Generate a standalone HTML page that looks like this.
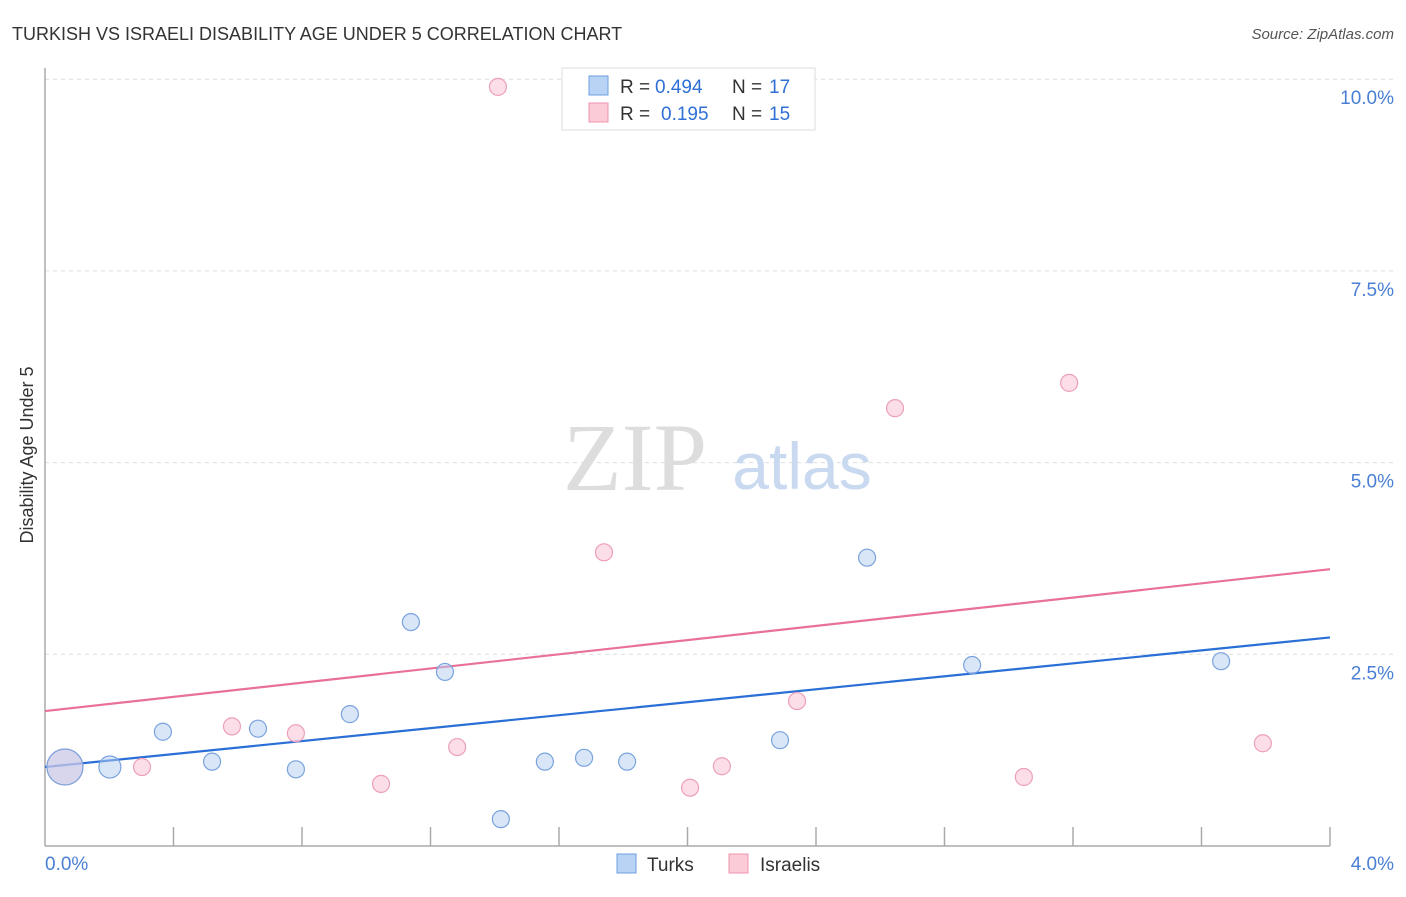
<!DOCTYPE html>
<html><head><meta charset="utf-8"><style>
body{margin:0;background:#fff;font-family:"Liberation Sans",sans-serif;}
</style></head><body>
<svg width="1406" height="892" font-family="Liberation Sans, sans-serif" xmlns="http://www.w3.org/2000/svg">
<text x="12" y="40" font-size="18" fill="#333">TURKISH VS ISRAELI DISABILITY AGE UNDER 5 CORRELATION CHART</text>
<text x="1394" y="39" font-size="15" fill="#555" font-style="italic" text-anchor="end">Source: ZipAtlas.com</text>
<g id="grid"></g>
<text x="635" y="490" font-size="96" fill="#ddd" text-anchor="middle" style="font-family:'Liberation Serif',serif">ZIP</text>
<text x="802" y="489" font-size="66" fill="#c9d9ef" text-anchor="middle">atlas</text>
<g id="axes"></g>
<g id="lines"></g>
<g id="pts"></g>
<text x="33" y="455" font-size="18" fill="#333" text-anchor="middle" transform="rotate(-90 33 455)">Disability Age Under 5</text>
<text x="45" y="870" font-size="19" fill="#4a7fd4">0.0%</text>
<text x="1394" y="870" font-size="19" fill="#4a7fd4" text-anchor="end">4.0%</text>
<g>
<rect x="562" y="68" width="253" height="62" fill="#fff" stroke="#ddd"/>
<rect x="589" y="76" width="19" height="19" fill="#b9d3f5" stroke="#6d9de0"/>
<rect x="589" y="103" width="19" height="19" fill="#fbcbd8" stroke="#ec94ad"/>
<text x="620" y="93" font-size="19" fill="#333">R =</text>
<text x="655" y="93" font-size="19" fill="#2f6fd6">0.494</text>
<text x="732" y="93" font-size="19" fill="#333">N =</text>
<text x="769" y="93" font-size="19" fill="#2f6fd6">17</text>
<text x="620" y="120" font-size="19" fill="#333">R =</text>
<text x="661" y="120" font-size="19" fill="#2f6fd6">0.195</text>
<text x="732" y="120" font-size="19" fill="#333">N =</text>
<text x="769" y="120" font-size="19" fill="#2f6fd6">15</text>
</g>
<g>
<rect x="617" y="854" width="19" height="19" fill="#b9d3f5" stroke="#6d9de0"/>
<text x="647" y="871" font-size="19" fill="#333">Turks</text>
<rect x="729" y="854" width="19" height="19" fill="#fbcbd8" stroke="#ec94ad"/>
<text x="760" y="871" font-size="19" fill="#333">Israelis</text>
</g>
</svg>
<script>
const yTicks=[2.5,5.0,7.5,10.0];
const yTickLabels=["2.5%","5.0%","7.5%","10.0%"];
const xTicks=[0.4,0.8,1.2,1.6,2.0,2.4,2.8,3.2,3.6,4.0];
const turksX=[0.062,0.202,0.367,0.52,0.663,0.781,0.949,1.139,1.245,1.419,1.556,1.678,1.812,2.288,2.559,2.886,3.661];
const turksY=[1.03,1.03,1.49,1.10,1.53,1.00,1.72,2.92,2.27,0.35,1.10,1.15,1.10,1.38,3.76,2.36,2.41];
const turksR=[18,11,8.5,8.5,8.5,8.5,8.5,8.5,8.5,8.5,8.5,8.5,8.5,8.5,8.5,8.5,8.5];
const israX=[0.062,0.302,0.582,0.781,1.046,1.283,1.41,1.74,2.008,2.107,2.341,2.646,3.047,3.188,3.791];
const israY=[1.03,1.03,1.56,1.47,0.81,1.29,9.90,3.83,0.76,1.04,1.89,5.71,0.90,6.04,1.34];
const israR=[18,8.5,8.5,8.5,8.5,8.5,8.5,8.5,8.5,8.5,8.5,8.5,8.5,8.5,8.5];
const turksTrend=[1.03,2.72];
const israTrend=[1.76,3.61];
const NS="http://www.w3.org/2000/svg";
const X=v=>45+v*321.25, Y=v=>846-v*76.68;
function mk(p,t,a){const e=document.createElementNS(NS,t);for(const k in a)e.setAttribute(k,a[k]);document.getElementById(p).appendChild(e);return e;}
yTicks.forEach((t,i)=>{
 const l=mk('grid','line',{x1:45,x2:1394,y1:Y(t),y2:Y(t),stroke:'#ddd','stroke-dasharray':'4,4'});
 
 
 const tx=mk('grid','text',{x:1394,y:Y(t)+25,'font-size':19,fill:'#4a7fd4','text-anchor':'end'});
 tx.textContent=yTickLabels[i];
 
 
});
let a=mk('axes','line',{x1:45,x2:45,y1:68,y2:846,stroke:'#aaa','stroke-width':1.5});


a=mk('axes','line',{x1:45,x2:1330,y1:846,y2:846,stroke:'#aaa','stroke-width':1.5});


xTicks.forEach(t=>{
 const l=mk('axes','line',{x1:X(t),x2:X(t),y1:827,y2:846,stroke:'#aaa','stroke-width':1.5});
 
 
});
let tl=mk('lines','line',{x1:X(0),x2:X(4),y1:Y(israTrend[0]),y2:Y(israTrend[1]),stroke:'#e8709a','stroke-width':2.2});


tl=mk('lines','line',{x1:X(0),x2:X(4),y1:Y(turksTrend[0]),y2:Y(turksTrend[1]),stroke:'#2a6fd6','stroke-width':2.2});


israX.forEach((x,i)=>{
 const c=mk('pts','circle',{cx:X(x),cy:Y(israY[i]),r:israR[i],fill:'rgba(248,190,208,0.5)',stroke:'#eda0b8','stroke-width':1.2});
 
 
});
turksX.forEach((x,i)=>{
 const c=mk('pts','circle',{cx:X(x),cy:Y(turksY[i]),r:turksR[i],fill:'rgba(180,205,242,0.5)',stroke:'#7aa3de','stroke-width':1.2});
 
 
});
</script>
</body></html>
